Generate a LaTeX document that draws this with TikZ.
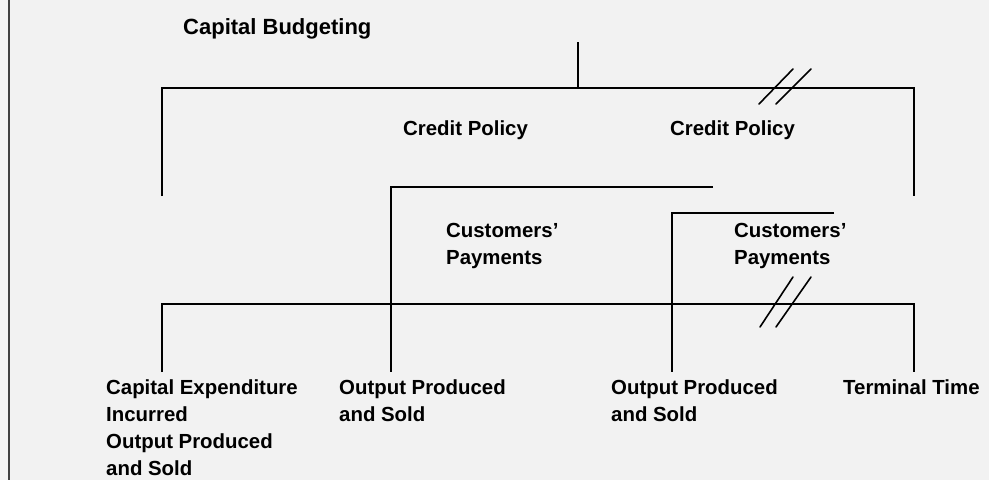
\documentclass[tikz,border=0pt]{standalone}
\usepackage{fontspec}
\setmainfont{Liberation Sans}
\begin{document}
\begin{tikzpicture}[x=1pt,y=-1pt,
  rule/.style={line width=1.8pt,line cap=butt,line join=miter},
  brk/.style={line width=1.6pt,line cap=round},
  lbl/.style={inner sep=0pt,anchor=north west,align=left,
    font=\fontsize{20.4}{26.8}\selectfont\bfseries},
  ttl/.style={inner sep=0pt,anchor=north west,
    font=\fontsize{22}{26}\selectfont\bfseries}]
% page background and frame rule
\fill[black!5] (0,0) rectangle (989,480);
\useasboundingbox (0,0) rectangle (989,480);
\draw[line width=1.3pt,black!75] (9,0) -- (9,480);

% labels
\node[ttl] (title) at (183,18) {Capital Budgeting};
\node[lbl] (cp1) at (403,121) {Credit Policy};
\node[lbl] (cp2) at (670,121) {Credit Policy};
\node[lbl] (cust1) at (446,223) {Customers'\\Payments};
\node[lbl] (cust2) at (734,223) {Customers'\\Payments};
\node[lbl] (t0) at (106,380) {Capital Expenditure\\Incurred\\Output Produced\\and Sold};
\node[lbl] (t1) at (339,380) {Output Produced\\and Sold};
\node[lbl] (t2) at (611,380) {Output Produced\\and Sold};
\node[lbl] (tT) at (843,380) {Terminal Time};

% key points of the time lines
\coordinate (stemtop) at (578,42);
\coordinate (stembot) at (578,88);
\coordinate (tl) at (162,88);
\coordinate (tr) at (914,88);
\coordinate (tlb) at (162,196);
\coordinate (trb) at (914,196);
\coordinate (m1r) at (713,187);
\coordinate (m1l) at (391,187);
\coordinate (m1b) at (391,372);
\coordinate (m2r) at (834,213);
\coordinate (m2l) at (672,213);
\coordinate (m2b) at (672,372);
\coordinate (bl) at (162,304);
\coordinate (br) at (914,304);
\coordinate (blb) at (162,372);
\coordinate (brb) at (914,372);

% capital budgeting bracket
\draw[rule] (stemtop) -- (stembot);
\draw[rule] (tlb) -- (tl) -- (tr) -- (trb);
% credit policy brackets
\draw[rule] (m1r) -- (m1l) -- (m1b);
\draw[rule] (m2r) -- (m2l) -- (m2b);
% output time line
\draw[rule] (blb) -- (bl) -- (br) -- (brb);

% break marks
\coordinate (a1) at (759,104); \coordinate (a2) at (793,69);
\coordinate (a3) at (776,104); \coordinate (a4) at (811,69);
\coordinate (b1) at (760,327); \coordinate (b2) at (793,277);
\coordinate (b3) at (776,327); \coordinate (b4) at (811,277);
\draw[brk] (a1) -- (a2) (a3) -- (a4);
\draw[brk] (b1) -- (b2) (b3) -- (b4);
\end{tikzpicture}
\end{document}
